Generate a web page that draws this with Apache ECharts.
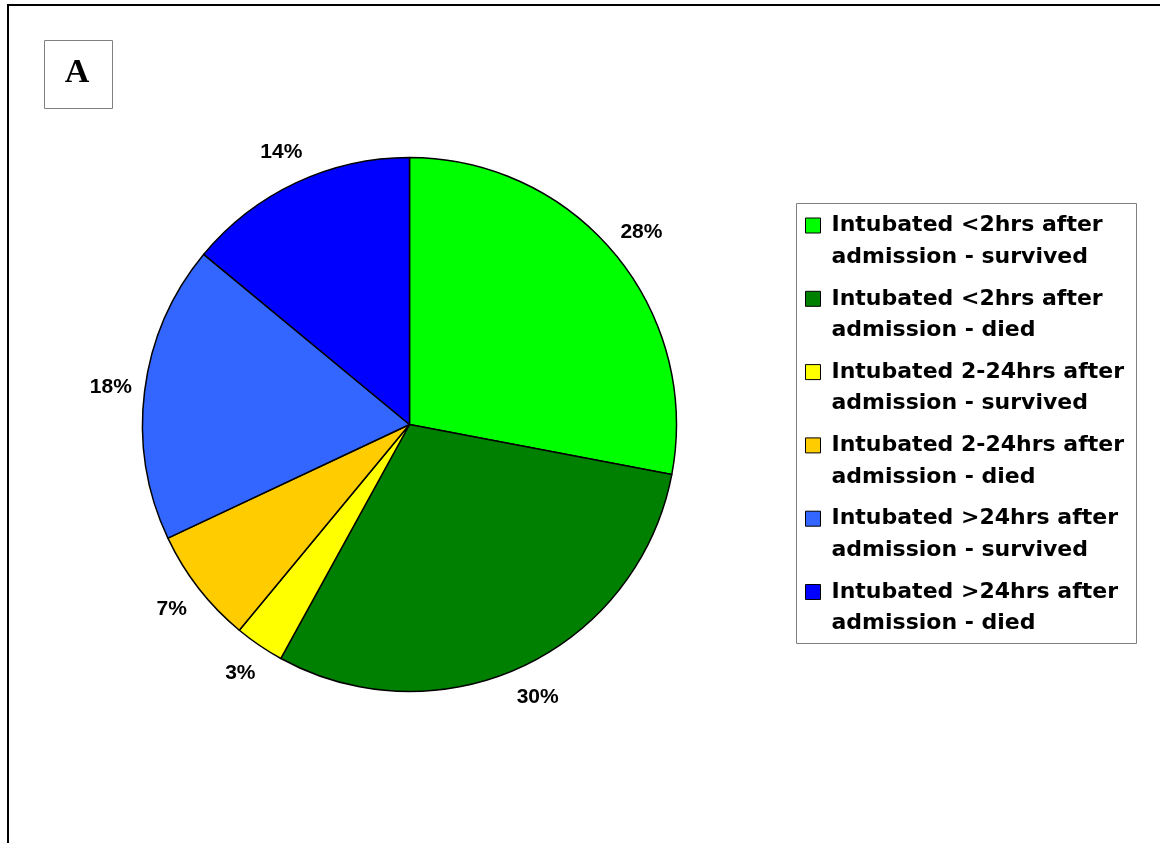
<!DOCTYPE html>
<html>
<head>
<meta charset="utf-8">
<script src="https://cdn.jsdelivr.net/npm/echarts@6/dist/echarts.min.js"></script>
<style>
  html, body { margin: 0; padding: 0; background: #fff; }
  #chart { width: 1160px; height: 843px; }
</style>
</head>
<body>
<div id="chart"></div>
<script>
// Intubation timing and outcome groups (clockwise from 12 o'clock)
const categories = [
  'Intubated <2hrs after\nadmission - survived',
  'Intubated <2hrs after\nadmission - died',
  'Intubated 2-24hrs after\nadmission - survived',
  'Intubated 2-24hrs after\nadmission - died',
  'Intubated >24hrs after\nadmission - survived',
  'Intubated >24hrs after\nadmission - died'
];
// Share of patients in each group, percent
const shares = [28, 30, 3, 7, 18, 14];
const sliceColors = ['#00FF00', '#008000', '#FFFF00', '#FFCC00', '#3366FF', '#0000FF'];
const panelLetter = 'A';

const CENTER = [409.5, 424.5];
const RADIUS = 267;
const SANS = '"Liberation Sans", Arial, sans-serif';

const chart = echarts.init(document.getElementById('chart'), null, { renderer: 'canvas' });

const sliceData = categories.map((name, i) => ({
  name: name,
  value: shares[i],
  itemStyle: { color: sliceColors[i] }
}));

chart.setOption({
  animation: false,
  backgroundColor: '#fff',
  legend: {
    orient: 'vertical',
    left: 805,
    top: 178.25,
    padding: 0,
    itemGap: -21.2,
    itemWidth: 15,
    itemHeight: 15,
    icon: 'rect',
    selectedMode: false,
    itemStyle: { borderColor: '#000', borderWidth: 1 },
    // leading empty line keeps the marker level with the first text line
    formatter: name => ' \n' + name,
    textStyle: {
      fontFamily: '"DejaVu Sans", sans-serif',
      fontWeight: 'bold',
      fontSize: 22,
      lineHeight: 31.5,
      color: '#000',
      padding: [0, 0, 0, 6]
    },
    data: categories
  },
  graphic: [
    {
      type: 'rect', z: 0, silent: true,
      shape: { x: 8, y: 5, width: 1200, height: 900 },
      style: { fill: 'none', stroke: '#000', lineWidth: 2 }
    },
    {
      type: 'rect', z: 1, silent: true,
      shape: { x: 44.5, y: 40.5, width: 68, height: 68 },
      style: { fill: '#fff', stroke: '#808080', lineWidth: 1 }
    },
    {
      type: 'text', z: 2, silent: true,
      style: {
        text: panelLetter, x: 77, y: 73, align: 'center', verticalAlign: 'middle',
        font: 'bold 34px "Liberation Serif", "Times New Roman", serif', fill: '#000'
      }
    },
    {
      type: 'rect', z: 1, silent: true,
      shape: { x: 796.5, y: 203.5, width: 340, height: 440 },
      style: { fill: '#fff', stroke: '#808080', lineWidth: 1 }
    }
  ],
  series: [
    {
      type: 'pie',
      center: CENTER,
      radius: RADIUS,
      startAngle: 90,
      clockwise: true,
      z: 3,
      data: sliceData,
      itemStyle: { borderColor: '#000', borderWidth: 1.5 },
      label: { show: false },
      labelLine: { show: false },
      emphasis: { disabled: true }
    },
    {
      // transparent ring that carries the percentage labels just outside the pie
      type: 'pie',
      center: CENTER,
      radius: [282, 314],
      startAngle: 90,
      clockwise: true,
      silent: true,
      legendHoverLink: false,
      z: 3,
      data: categories.map((name, i) => ({ name: name, value: shares[i] })),
      itemStyle: { color: 'rgba(0,0,0,0)', borderWidth: 0 },
      label: {
        show: true,
        position: 'inside',
        formatter: p => p.value + '%',
        color: '#000',
        fontFamily: SANS,
        fontWeight: 'bold',
        fontSize: 21
      },
      labelLine: { show: false },
      emphasis: { disabled: true }
    }
  ]
});
</script>
</body>
</html>
